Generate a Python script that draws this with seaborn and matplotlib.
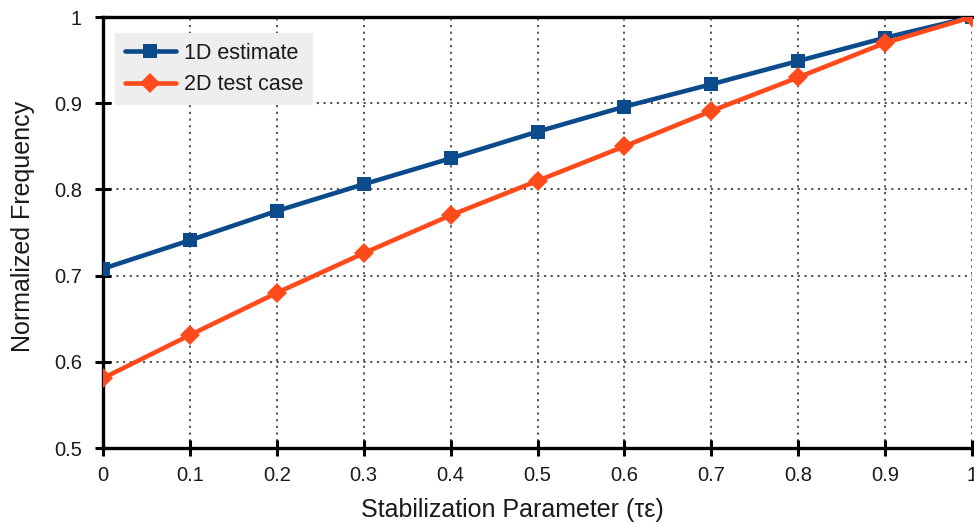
import matplotlib
matplotlib.use("Agg")
import matplotlib.pyplot as plt
import seaborn as sns
import pandas as pd

x_vals = [0.0, 0.1, 0.2, 0.3, 0.4, 0.5, 0.6, 0.7, 0.8, 0.9, 1.0]
est_1d = [0.708, 0.741, 0.775, 0.806, 0.836, 0.867, 0.896, 0.922, 0.949, 0.976, 1.0]
test_2d = [0.581, 0.631, 0.680, 0.726, 0.770, 0.810, 0.850, 0.891, 0.930, 0.970, 1.0]
x_ticks = [0, 0.1, 0.2, 0.3, 0.4, 0.5, 0.6, 0.7, 0.8, 0.9, 1]
x_ticklabels = ["0", "0.1", "0.2", "0.3", "0.4", "0.5", "0.6", "0.7", "0.8", "0.9", "1"]
y_ticks = [0.5, 0.6, 0.7, 0.8, 0.9, 1.0]
y_ticklabels = ["0.5", "0.6", "0.7", "0.8", "0.9", "1"]

sns.set_theme(style="white")
plt.rcParams['font.family'] = ['Liberation Sans', 'DejaVu Sans']

df = pd.DataFrame({
    "x": x_vals * 2,
    "y": est_1d + test_2d,
    "series": ["1D estimate"] * len(x_vals) + ["2D test case"] * len(x_vals),
})

fig = plt.figure(figsize=(9.74, 5.24), dpi=100)
ax = fig.add_axes([0.1057, 0.145, 0.8923, 0.8225])

palette = {"1D estimate": "#0B4A8B", "2D test case": "#FF4A1C"}
sns.lineplot(data=df, x="x", y="y", hue="series", style="series",
             markers={"1D estimate": "s", "2D test case": "D"}, dashes=False,
             palette=palette, linewidth=3.3, markersize=10, markeredgewidth=0,
             ax=ax, zorder=3)

ax.set_xlim(0, 1)
ax.set_ylim(0.5, 1.0)
ax.set_xticks(x_ticks)
ax.set_xticklabels(x_ticklabels)
ax.set_yticks(y_ticks)
ax.set_yticklabels(y_ticklabels)
ax.tick_params(axis="both", which="major", direction="inout", length=12, width=2.2,
               labelsize=14.5, colors="black", bottom=True, left=True)
ax.tick_params(axis="x", pad=7)
ax.tick_params(axis="y", pad=9)
ax.tick_params(axis="both", labelcolor="#1a1a1a")
ax.grid(True, linestyle=(0, (1.2, 2.5)), color="#444444", linewidth=1.3)
for s in ["left", "bottom", "top"]:
    ax.spines[s].set_visible(True)
    ax.spines[s].set_color("black")
    ax.spines[s].set_linewidth(2.4)
ax.spines["right"].set_visible(False)

ax.set_xlabel("Stabilization Parameter (τε)", fontsize=18, color="#1a1a1a")
ax.set_ylabel("Normalized Frequency", fontsize=18, color="#1a1a1a")
ax.xaxis.set_label_coords(0.471, -0.116)
ax.yaxis.set_label_coords(-0.078, 0.515)

leg = ax.legend(loc="upper left", fontsize=15.5, frameon=True, facecolor="#EEEEEE",
                edgecolor="#EEEEEE", framealpha=1.0, fancybox=False,
                handlelength=2.4, handletextpad=0.35, borderpad=0.45,
                labelspacing=0.5, borderaxespad=0, bbox_to_anchor=(0.0138, 0.963))
leg.get_frame().set_linewidth(0)
for t in leg.get_texts():
    t.set_color("#1a1a1a")

fig.savefig("out.png", dpi=100)
